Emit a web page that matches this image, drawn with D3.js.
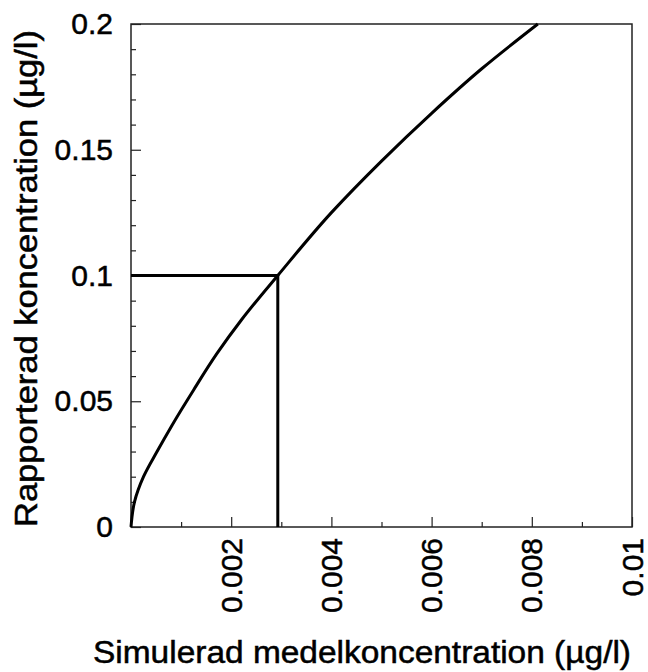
<!DOCTYPE html>
<html>
<head>
<meta charset="utf-8">
<script src="https://cdn.jsdelivr.net/npm/d3@7"></script>
<style>
  body { margin: 0; background: #fff; }
  svg { display: block; font-family: "Liberation Sans", Arial, Helvetica, sans-serif; }
</style>
</head>
<body>
<svg id="chart" width="648" height="672"></svg>
<script>
let WIDTH = 648;
let HEIGHT = 672;

// curve (simulerad -> rapporterad)
let simX = [0, 0.00007, 0.00025, 0.00052, 0.00082, 0.00125, 0.00171, 0.00221, 0.00293,
            0.004, 0.005, 0.006, 0.007, 0.00812];
let repY = [0, 0.01, 0.02, 0.03, 0.0405, 0.0545, 0.0688, 0.0825, 0.1,
            0.125, 0.1455, 0.1645, 0.1822, 0.2];

// marker: reported 0.1 -> simulated ~0.00293
let markX = [0, 0.00293, 0.00293];
let markY = [0.1, 0.1, 0];

let xMajor = [0.002, 0.004, 0.006, 0.008, 0.01];
let xMajorLabels = ['0.002', '0.004', '0.006', '0.008', '0.01'];
let xMinor = [0.001, 0.003, 0.005, 0.007, 0.009];
let yMajor = [0, 0.05, 0.1, 0.15, 0.2];
let yMajorLabels = ['0', '0.05', '0.1', '0.15', '0.2'];
let yMinor = [0.01, 0.02, 0.03, 0.04, 0.06, 0.07, 0.08, 0.09, 0.11, 0.12, 0.13, 0.14, 0.16, 0.17, 0.18, 0.19];

let xTitle = 'Simulerad medelkoncentration (\u00b5g/l)';
let yTitle = 'Rapporterad koncentration (\u00b5g/l)';

let mLeft = 131, mRight = 632, mTop = 24, mBottom = 527;

let xScale = d3.scaleLinear().domain([0, 0.01]).range([mLeft, mRight]);
let yScale = d3.scaleLinear().domain([0, 0.2]).range([mBottom, mTop]);

let svg = d3.select('#chart');

// frame
svg.append('rect')
  .attr('x', mLeft).attr('y', mTop)
  .attr('width', mRight - mLeft).attr('height', mBottom - mTop)
  .attr('fill', 'none').attr('stroke', '#222').attr('stroke-width', 1.5);

// y axis, ticks inward
let yMinorAxis = d3.axisLeft(yScale).tickValues(yMinor).tickSize(-5).tickFormat('');
svg.append('g').attr('transform', 'translate(' + mLeft + ',0)').call(yMinorAxis);
let yMajorAxis = d3.axisLeft(yScale).tickValues(yMajor).tickSize(-10).tickPadding(18)
  .tickFormat((d, i) => yMajorLabels[i]);
svg.append('g').attr('class', 'y-major').attr('transform', 'translate(' + mLeft + ',0)').call(yMajorAxis);

// x axis, ticks inward
let xMinorAxis = d3.axisBottom(xScale).tickValues(xMinor).tickSize(-5).tickFormat('');
svg.append('g').attr('transform', 'translate(0,' + mBottom + ')').call(xMinorAxis);
let xMajorAxis = d3.axisBottom(xScale).tickValues(xMajor).tickSize(-10).tickFormat('');
svg.append('g').attr('transform', 'translate(0,' + mBottom + ')').call(xMajorAxis);

svg.selectAll('.domain').remove();
svg.selectAll('.tick line').attr('stroke', '#222').attr('stroke-width', 1.2);
svg.selectAll('.y-major text')
  .attr('font-size', 30).attr('fill', '#000')
  .attr('stroke', '#000').attr('stroke-width', 0.5)
  .attr('font-family', '"Liberation Sans", Arial, sans-serif');

// rotated x tick labels
svg.append('g').selectAll('text')
  .data(xMajor)
  .join('text')
    .attr('transform', d => 'translate(' + xScale(d) + ',' + (mBottom + 11) + ') rotate(-90)')
    .attr('text-anchor', 'end')
    .attr('dy', '0.35em')
    .attr('font-size', 30)
    .attr('stroke', '#000').attr('stroke-width', 0.5)
    .text((d, i) => xMajorLabels[i]);

// curve (monotone in y gives the vertical start at the origin)
let pts = simX.map((x, i) => [x, repY[i]]);
let line = d3.line()
  .x(d => xScale(d[0]))
  .y(d => yScale(d[1]))
  .curve(d3.curveMonotoneY);
svg.append('path')
  .datum(pts)
  .attr('d', line)
  .attr('fill', 'none')
  .attr('stroke', '#000')
  .attr('stroke-width', 3);

// marker lines
let mark = markX.map((x, i) => [x, markY[i]]);
svg.append('path')
  .datum(mark)
  .attr('d', d3.line().x(d => xScale(d[0])).y(d => yScale(d[1])))
  .attr('fill', 'none')
  .attr('stroke', '#000')
  .attr('stroke-width', 3);

// titles
svg.append('text')
  .attr('x', 93).attr('y', 663)
  .attr('font-size', 31)
  .attr('textLength', 538)
  .attr('lengthAdjust', 'spacingAndGlyphs')
  .attr('stroke', '#000').attr('stroke-width', 0.5)
  .text(xTitle);

svg.append('text')
  .attr('transform', 'translate(37,527) rotate(-90)')
  .attr('font-size', 31)
  .attr('textLength', 497)
  .attr('lengthAdjust', 'spacingAndGlyphs')
  .attr('stroke', '#000').attr('stroke-width', 0.5)
  .text(yTitle);
</script>
</body>
</html>
